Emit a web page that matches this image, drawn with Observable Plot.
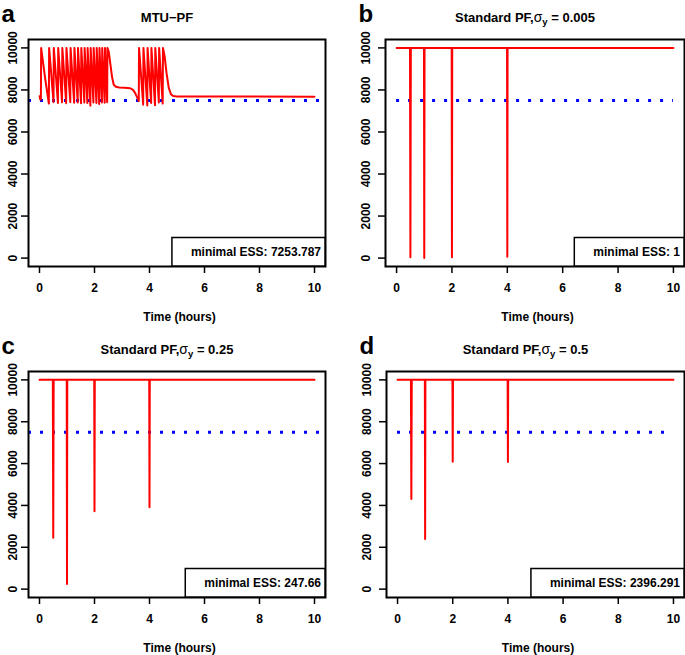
<!DOCTYPE html>
<html><head><meta charset="utf-8">
<script src="https://cdn.jsdelivr.net/npm/d3@7"></script>
<script src="https://cdn.jsdelivr.net/npm/@observablehq/plot@0.6"></script>
<style>
html,body{margin:0;padding:0;background:#fff;overflow:hidden;}
#wrap{position:relative;width:685px;height:655px;background:#fff;}
.panel{position:absolute;}
</style></head><body><div id="wrap"></div>
<script>
// ---- data ----
const xTicks = [0, 2, 4, 6, 8, 10];
const yTicks = [0, 2000, 4000, 6000, 8000, 10000];
const threshold = 7500;

// Panel a: MTU-PF
const timeA = [0, 0.01, 0.02, 0.05, 0.06, 0.20, 0.34, 0.35, 0.51, 0.52, 0.67, 0.68, 0.82, 0.83, 0.97, 0.98,
  1.12, 1.13, 1.26, 1.27, 1.39, 1.40, 1.51, 1.52, 1.63, 1.64, 1.74, 1.75, 1.85, 1.86, 1.96, 1.97,
  2.07, 2.08, 2.17, 2.18, 2.27, 2.28, 2.37, 2.38, 2.46, 2.47, 2.52, 2.58, 2.64, 2.70, 2.78, 2.90,
  3.10, 3.30, 3.40, 3.48, 3.55, 3.61, 3.62, 3.77, 3.78, 3.92, 3.93, 4.06, 4.07, 4.20, 4.21, 4.34,
  4.35, 4.48, 4.49, 4.55, 4.62, 4.70, 4.78, 4.86, 5.00, 10.00];
const essA = [7700, 7700, 7560, 7540, 10000, 8600, 7350, 10000, 7420, 10000, 7380, 10000, 7410, 10000, 7370, 10000,
  7420, 10000, 7390, 10000, 7400, 10000, 7370, 10000, 7400, 10000, 7380, 10000, 7254, 10000, 7400, 10000,
  7380, 10000, 7330, 10000, 7400, 10000, 7390, 10000, 7420, 10000, 9800, 9200, 8600, 8250, 8150, 8120,
  8100, 8080, 8000, 7850, 7650, 7470, 10000, 7300, 10000, 7260, 10000, 7380, 10000, 7270, 10000, 7400,
  10000, 7350, 10000, 9600, 8800, 8100, 7800, 7710, 7690, 7680];

// Panels b, c, d: standard PF
const timeStd = [0, 0.485, 0.5, 0.515, 0.99, 1, 1.01, 1.99, 2, 2.01, 3.99, 4, 4.01, 10];
const essB = [10000, 10000, 40, 10000, 10000, 1, 10000, 10000, 40, 10000, 10000, 60, 10000, 10000];
const essC = [10000, 10000, 2460, 10000, 10000, 248, 10000, 10000, 3720, 10000, 10000, 3910, 10000, 10000];
const essD = [10000, 10000, 4310, 10000, 10000, 2396, 10000, 10000, 6090, 10000, 10000, 6075, 10000, 10000];

const letters = ["a", "b", "c", "d"];
const titles = [
  {main: "MTU\u2212PF"},
  {main: "Standard PF,", sigma: true, rest: " = 0.005"},
  {main: "Standard PF,", sigma: true, rest: " = 0.25"},
  {main: "Standard PF,", sigma: true, rest: " = 0.5"}
];
const essLabels = ["minimal ESS: 7253.787", "minimal ESS: 1", "minimal ESS: 247.66", "minimal ESS: 2396.291"];
const xLabel = "Time (hours)";

// ---- layout ----
const layout = [
  {left: 0,   top: 0,   w: 342, h: 327, mL: 28, mR: 17, mT: 39, mB: 61, yPad: 4.5, fullRule: true},
  {left: 342, top: 0,   w: 343, h: 327, mL: 43, mR: 1,  mT: 39, mB: 61, yPad: 8.5, fullRule: false},
  {left: 0,   top: 327, w: 342, h: 328, mL: 28, mR: 17, mT: 44, mB: 58, yPad: 4.5, fullRule: true},
  {left: 342, top: 327, w: 343, h: 328, mL: 44, mR: 1,  mT: 44, mB: 58, yPad: 8.5, fullRule: false}
];
const series = [[timeA, essA], [timeStd, essB], [timeStd, essC], [timeStd, essD]];

const font = "'Liberation Sans', Arial, Helvetica, sans-serif";
const wrap = document.getElementById("wrap");

layout.forEach((L, i) => {
  const [ts, vs] = series[i];
  const data = ts.map((t, k) => ({t, v: vs[k]}));
  const plot = Plot.plot({
    width: L.w, height: L.h,
    marginLeft: L.mL, marginRight: L.mR, marginTop: L.mT, marginBottom: L.mB,
    x: {domain: [-0.4, 10.4]},
    y: {domain: [-400, 10400]},
    style: {fontFamily: font, fontSize: "12px", fontWeight: "bold", background: "white", color: "black", overflow: "visible"},
    marks: [
      Plot.ruleY([threshold], L.fullRule
        ? {stroke: "blue", strokeWidth: 3, strokeDasharray: "3,9"}
        : {x1: 0, x2: 10, stroke: "blue", strokeWidth: 3, strokeDasharray: "3,9"}),
      Plot.line(data, {x: "t", y: "v", stroke: "red", strokeWidth: 2, strokeLinejoin: "round"}),
      Plot.axisX({ticks: xTicks, tickSize: 7, tickPadding: 10, label: null, tickFormat: d => String(d), strokeWidth: 1.5, fontSize: 12, fontWeight: "bold"}),
      Plot.axisY({ticks: yTicks, tickSize: 7, tickPadding: L.yPad, tickRotate: -90, label: null, tickFormat: d => String(d), strokeWidth: 1.5, fontSize: 12, fontWeight: "bold"}),
      Plot.frame({stroke: "black", strokeWidth: 2})
    ]
  });
  const div = document.createElement("div");
  div.className = "panel";
  div.style.left = L.left + "px";
  div.style.top = L.top + "px";
  div.appendChild(plot);
  wrap.appendChild(div);

  const svg = d3.select(plot);
  const boxL = L.mL, boxR = L.w - L.mR, boxT = L.mT, boxB = L.h - L.mB;
  const cx = (boxL + boxR) / 2;

  // legend box (bottom right)
  const g = svg.append("g");
  const rect = g.append("rect");
  const txt = g.append("text")
    .attr("x", boxR - 4).attr("y", boxB - 10)
    .attr("text-anchor", "end")
    .style("font-family", font).style("font-size", "12px").style("font-weight", "bold")
    .attr("fill", "black")
    .text(essLabels[i]);
  const tw = txt.node().getComputedTextLength();
  const rw = tw + 23;
  rect.attr("x", boxR - rw).attr("y", boxB - 28.5).attr("width", rw).attr("height", 28.5)
    .attr("fill", "white").attr("stroke", "black").attr("stroke-width", 1.5);

  // title
  const tt = titles[i];
  const title = svg.append("text")
    .attr("x", cx - 9.5).attr("y", boxT - 17)
    .attr("text-anchor", "middle")
    .style("font-family", font).style("font-size", "13px").style("font-weight", "bold")
    .attr("fill", "black");
  title.append("tspan").text(tt.main);
  if (tt.sigma) {
    title.append("tspan").style("font-weight", "normal").style("font-size", "14px").text("\u03c3");
    title.append("tspan").attr("dy", 3).style("font-size", "9.5px").text("y");
    title.append("tspan").attr("dy", -3).text(tt.rest);
  }

  // panel letter
  svg.append("text")
    .attr("x", boxL - 26.5).attr("y", boxT - 17)
    .attr("text-anchor", "start")
    .style("font-family", font).style("font-size", "24px").style("font-weight", "bold")
    .attr("fill", "black")
    .text(letters[i]);

  // x axis label
  svg.append("text")
    .attr("x", cx + 3).attr("y", boxB + 54.5)
    .attr("text-anchor", "middle")
    .style("font-family", font).style("font-size", "12px").style("font-weight", "bold")
    .attr("fill", "black")
    .text(xLabel);
});
</script>
</body></html>
